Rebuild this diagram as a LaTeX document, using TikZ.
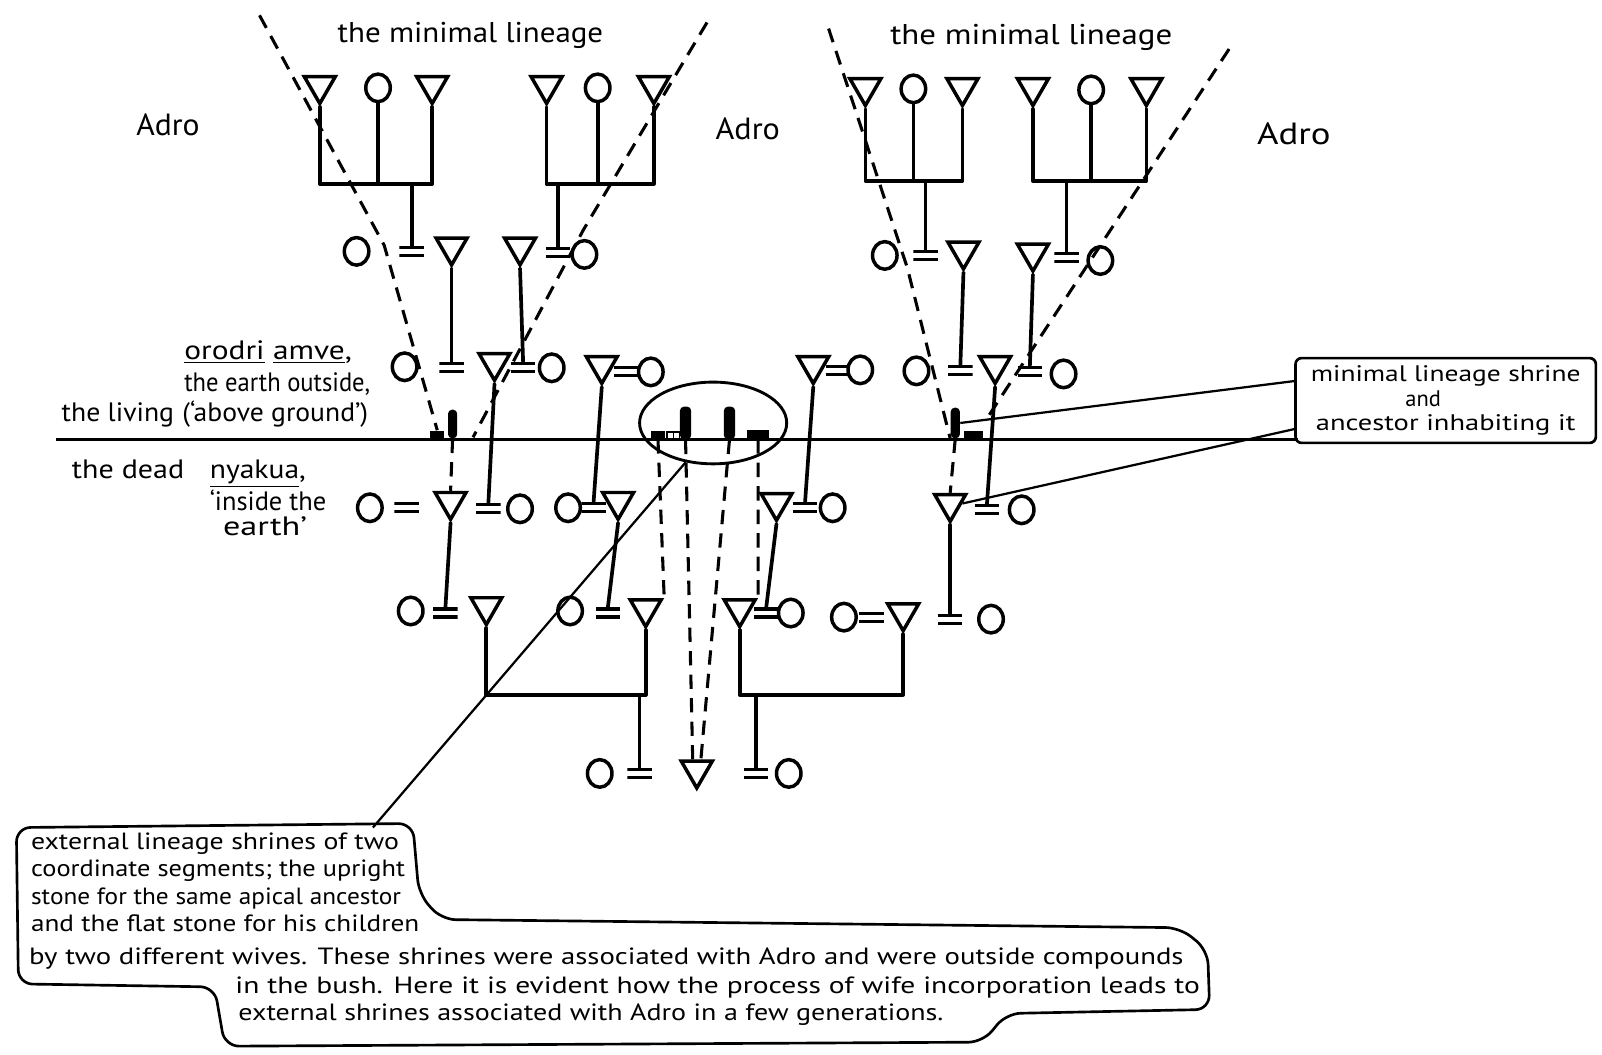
\documentclass[tikz,border=0pt]{standalone}
\usepackage{fontspec}
\setmainfont{PT Sans}
\usetikzlibrary{shapes.geometric}
\newcommand{\fitw}[2]{\resizebox{#1}{\height}{#2}}
\tikzset{
  kin/.style={line width=1.8pt, line cap=round, line join=round},
  male/.style={regular polygon, regular polygon sides=3, shape border rotate=180, draw, line width=1.7pt, minimum size=17.5pt, inner sep=0pt, yshift=2.1pt},
  fem/.style={ellipse, draw, line width=1.7pt, minimum width=12pt, minimum height=13.5pt, inner sep=0pt},
  marr/.style={minimum width=12pt, minimum height=5.4pt, inner sep=0pt, path picture={
     \draw[line width=1.5pt] ([yshift=-0.75pt]path picture bounding box.north west) -- ([yshift=-0.75pt]path picture bounding box.north east)
        ([yshift=0.75pt]path picture bounding box.south west) -- ([yshift=0.75pt]path picture bounding box.south east);}},
  dashln/.style={line width=1.5pt, dash pattern=on 7pt off 4.5pt},
  upright/.style={fill=black, rounded corners=2pt, inner sep=0pt, minimum width=4.5pt, minimum height=14pt},
  flatstone/.style={fill=black, inner sep=0pt, minimum width=7pt, minimum height=4pt},
  thinln/.style={line width=1.1pt},
  hand/.style={inner sep=0pt, anchor=base west},
}
\begin{document}
\begin{tikzpicture}[x=0.5pt,y=-0.5pt]
\fill[white] (0,0) rectangle (1568,1032);
\useasboundingbox (0,0) rectangle (1568,1032);

% ---------- labels ----------
\node[hand, font=\fontsize{14}{16}\selectfont] (ml1) at (330,42) {\fitw{130pt}{the minimal lineage}};
\node[hand, font=\fontsize{14}{16}\selectfont] (ml2) at (871,44) {\fitw{138pt}{the minimal lineage}};
\node[hand, font=\fontsize{15}{16}\selectfont] (adro1) at (133,133) {\fitw{31pt}{Adro}};
\node[hand, font=\fontsize{15}{16}\selectfont] (adro2) at (700,137) {\fitw{31.5pt}{Adro}};
\node[hand, font=\fontsize{15}{16}\selectfont] (adro3) at (1230,141) {\fitw{36pt}{Adro}};

\node[hand, font=\fontsize{13}{14}\selectfont] (lb1) at (180,352) {\fitw{82pt}{\underline{orodri} \underline{amve},}};
\node[hand, font=\fontsize{13}{14}\selectfont] (lb2) at (180,383) {\fitw{91pt}{the earth outside,}};
\node[hand, font=\fontsize{13}{14}\selectfont] (lb3) at (60,413) {\fitw{55pt}{the living}};
\node[hand, font=\fontsize{13}{14}\selectfont] (lb4) at (178,413) {\fitw{91pt}{(`above ground')}};
\node[hand, font=\fontsize{13}{14}\selectfont] (lb5) at (70,468) {\fitw{55pt}{the dead}};
\node[hand, font=\fontsize{13}{14}\selectfont] (lb6) at (205,468) {\fitw{47pt}{\underline{nyakua},}};
\node[hand, font=\fontsize{13}{14}\selectfont] (lb7) at (205,500) {\fitw{57pt}{`inside the}};
\node[hand, font=\fontsize{13}{14}\selectfont] (lb8) at (218,524) {\fitw{41pt}{earth'}};

% ---------- ground line and shrines ----------
\coordinate (gl) at (55,430);
\coordinate (gr) at (1270,430);
\draw[line width=1.5pt] (gl) -- (gr);

\node[flatstone] (s1f) at (428,425.5) {};
\node[upright] (s1u) at (443,415) {};
\node[flatstone, minimum width=9pt] (s2f) at (953,425.5) {};
\node[upright, minimum width=4.5pt, minimum height=15pt] (s2u) at (935,414) {};
\node[flatstone] (s3a) at (644,425.5) {};
\node[draw, line width=0.7pt, minimum size=3pt, inner sep=0pt] (sq1) at (656,426) {};
\node[draw, line width=0.7pt, minimum size=3pt, inner sep=0pt] (sq2) at (662,426) {};
\node[upright, minimum width=5.5pt, minimum height=16pt] (s3b) at (671,414) {};
\node[upright, minimum width=5.5pt, minimum height=16pt] (s3c) at (714,414) {};
\node[flatstone, minimum width=11pt, minimum height=4.5pt] (s3d) at (742,425) {};
\node[ellipse, draw, line width=1.4pt, minimum width=72pt, minimum height=40pt, inner sep=0pt] (ell) at (698,414) {};

% ---------- row 1 ----------
\node[male] (a1) at (313,88) {};
\node[fem]  (a2) at (370,86) {};
\node[male] (a3) at (423,88) {};
\node[male] (a4) at (535,88) {};
\node[fem]  (a5) at (585,86) {};
\node[male] (a6) at (640,88) {};
\node[male] (a7) at (847,90) {};
\node[fem]  (a8) at (894,87) {};
\node[male] (a9) at (942,90) {};
\node[male] (a10) at (1011,90) {};
\node[fem]  (a11) at (1068,88) {};
\node[male] (a12) at (1122,90) {};

% ---------- row 2 ----------
\node[fem]  (b1) at (349,246) {};
\node[marr] (b2) at (403,246) {};
\node[male] (b3) at (442,246) {};
\node[male] (b4) at (509,246) {};
\node[marr] (b5) at (546,247) {};
\node[fem]  (b6) at (572,249) {};
\node[fem]  (b7) at (866,250) {};
\node[marr] (b8) at (906,250) {};
\node[male] (b9) at (943,250) {};
\node[male] (b10) at (1011,252) {};
\node[marr] (b11) at (1044,252) {};
\node[fem]  (b12) at (1077,255) {};

% ---------- row 3 ----------
\node[fem]  (c1) at (396,359) {};
\node[marr] (c2) at (442,360) {};
\node[male] (c3) at (484,359) {};
\node[marr] (c4) at (512,360) {};
\node[fem]  (c5) at (540,360) {};
\node[male] (c6) at (589,362) {};
\node[marr] (c7) at (613,364) {};
\node[fem]  (c8) at (637,364) {};
\node[male] (c9) at (796,362) {};
\node[marr] (c10) at (820,363) {};
\node[fem]  (c11) at (842,362) {};
\node[fem]  (c12) at (897,363) {};
\node[marr] (c13) at (940,363) {};
\node[male] (c14) at (974,362) {};
\node[marr] (c15) at (1008,364) {};
\node[fem]  (c16) at (1041,366) {};

% ---------- row 4 ----------
\node[fem]  (d1) at (362,497) {};
\node[marr] (d2) at (398,497) {};
\node[male] (d3) at (441,495) {};
\node[marr] (d4) at (478,498) {};
\node[fem]  (d5) at (509,498) {};
\node[fem]  (d6) at (556,497) {};
\node[marr] (d7) at (581,497) {};
\node[male] (d8) at (605,495) {};
\node[male] (d9) at (760,496) {};
\node[marr] (d10) at (788,497) {};
\node[fem]  (d11) at (815,497) {};
\node[male] (d12) at (930,497) {};
\node[marr] (d13) at (966,499) {};
\node[fem]  (d14) at (1000,499) {};

% ---------- row 5 ----------
\node[fem]  (e1) at (402,598) {};
\node[marr] (e2) at (436,600) {};
\node[male] (e3) at (476,598) {};
\node[fem]  (e4) at (558,598) {};
\node[marr] (e5) at (595,600) {};
\node[male] (e6) at (632,600) {};
\node[male] (e7) at (724,600) {};
\node[marr] (e8) at (750,600) {};
\node[fem]  (e9) at (774,600) {};
\node[fem]  (e10) at (826,604) {};
\node[marr] (e11) at (853,604) {};
\node[male] (e12) at (884,604) {};
\node[marr] (e13) at (930,606) {};
\node[fem]  (e14) at (970,606) {};

% ---------- row 6 ----------
\node[fem]  (f1) at (587,757) {};
\node[marr] (f2) at (626,757) {};
\node[male] (f3) at (682,758) {};
\node[marr] (f4) at (740,757) {};
\node[fem]  (f5) at (772,757) {};

% ---------- descent lines ----------
\coordinate (yA) at (0,180);
\coordinate (yB) at (0,177);
\coordinate (yC) at (0,680);
\draw[kin] (a1.south) -- (a1.south |- yA) -- (a3.south |- yA) -- (a3.south);
\draw[kin] (a2.south) -- (a2.south |- yA);
\draw[kin] (b2.north) -- (b2.north |- yA);
\draw[kin] (a4.south) -- (a4.south |- yA) -- (a6.south |- yA) -- (a6.south);
\draw[kin] (a5.south) -- (a5.south |- yA);
\draw[kin] (b5.north) -- (b5.north |- yA);
\draw[kin] (a7.south) -- (a7.south |- yB) -- (a9.south |- yB) -- (a9.south);
\draw[kin] (a8.south) -- (a8.south |- yB);
\draw[kin] (b8.north) -- (b8.north |- yB);
\draw[kin] (a10.south) -- (a10.south |- yB) -- (a12.south |- yB) -- (a12.south);
\draw[kin] (a11.south) -- (a11.south |- yB);
\draw[kin] (b11.north) -- (b11.north |- yB);

\draw[kin] (b3.south) -- (c2.north);
\draw[kin] (b4.south) -- (c4.north);
\draw[kin] (b9.south) -- (c13.north);
\draw[kin] (b10.south) -- (c15.north);

\draw[kin] (c3.south) -- (d4.north);
\draw[kin] (c6.south) -- (d7.north);
\draw[kin] (c9.south) -- (d10.north);
\draw[kin] (c14.south) -- (d13.north);

\draw[kin] (d3.south) -- (e2.north);
\draw[kin] (d8.south) -- (e5.north);
\draw[kin] (d9.south) -- (e8.north);
\draw[kin] (d12.south) -- (e13.north);

\draw[kin] (e3.south) -- (e3.south |- yC) -- (e6.south |- yC) -- (e6.south);
\draw[kin] (f2.north) -- (f2.north |- yC);
\draw[kin] (e7.south) -- (e7.south |- yC) -- (e12.south |- yC) -- (e12.south);
\draw[kin] (f4.north) -- (f4.north |- yC);

% ---------- dashed lineage lines ----------
\coordinate (t1) at (254,15);  \coordinate (k1) at (376,240);
\coordinate (t2) at (692,22);  \coordinate (k2) at (571,225); \coordinate (g2) at (463,428);
\coordinate (t3) at (811,28);  \coordinate (k3) at (888,262);
\coordinate (t4) at (1203,48); \coordinate (g4) at (967,408);
\draw[dashln] (t1) -- (k1) -- (s1f.north);
\draw[dashln] (t2) -- (k2) -- (g2);
\draw[dashln] (t3) -- (k3) -- (s2u.south west);
\draw[dashln] (t4) -- (g4);

\draw[dashln] (s1u.south) -- (d3.north);
\draw[dashln] (s2u.south) -- (d12.north);
\draw[dashln] (s3a.south) -- (e6.corner 2);
\draw[dashln] (s3b.south) -- ([xshift=-2pt]f3.north);
\draw[dashln] (s3c.south) -- ([xshift=2pt]f3.north);
\draw[dashln] (s3d.south) -- (e7.corner 2);

% ---------- right box ----------
\node[draw, line width=1.3pt, rounded corners=3pt, minimum width=147pt, minimum height=41.5pt, inner sep=0pt, align=center, font=\fontsize{11}{11.8}\selectfont] (box) at (1415,392)
  {\fitw{132pt}{minimal lineage shrine}\\\hspace*{-22pt}and\\\fitw{127pt}{ancestor inhabiting it}};
\draw[thinln] ([yshift=9.5pt]box.west) -- (s2u.east);
\draw[thinln] ([yshift=-14pt]box.west) -- (d12.east);

% ---------- bottom callout ----------
\coordinate (cb) at (365,810);
\draw[thinln] (ell.235) -- (cb);
\draw[line width=1.3pt, rounded corners=7pt] (16,810) -- (404,806) -- (410,875) -- (432,900) -- (1155,908) -- (1182,930) -- (1184,988) -- (985,992) -- (962,1020) -- (220,1024) -- (210,966) -- (18,963) -- cycle;

\node[hand, font=\fontsize{11.5}{12}\selectfont] (n1) at (30,831) {\fitw{180pt}{external lineage shrines of two}};
\node[hand, font=\fontsize{11.5}{12}\selectfont] (n2) at (30,858) {\fitw{183pt}{coordinate segments; the upright}};
\node[hand, font=\fontsize{11.5}{12}\selectfont] (n3) at (30,885) {\fitw{181pt}{stone for the same apical ancestor}};
\node[hand, font=\fontsize{11.5}{12}\selectfont] (n4) at (30,912) {\fitw{190pt}{and the flat stone for his children}};
\node[hand, font=\fontsize{11.5}{12}\selectfont] (n5) at (28,944) {\fitw{565pt}{by two different wives. These shrines were associated with Adro and were outside compounds}};
\node[hand, font=\fontsize{11.5}{12}\selectfont] (n6) at (230,972) {\fitw{472pt}{in the bush. Here it is evident how the process of wife incorporation leads to}};
\node[hand, font=\fontsize{11.5}{12}\selectfont] (n7) at (233,999) {\fitw{345pt}{external shrines associated with Adro in a few generations.}};
\end{tikzpicture}
\end{document}
